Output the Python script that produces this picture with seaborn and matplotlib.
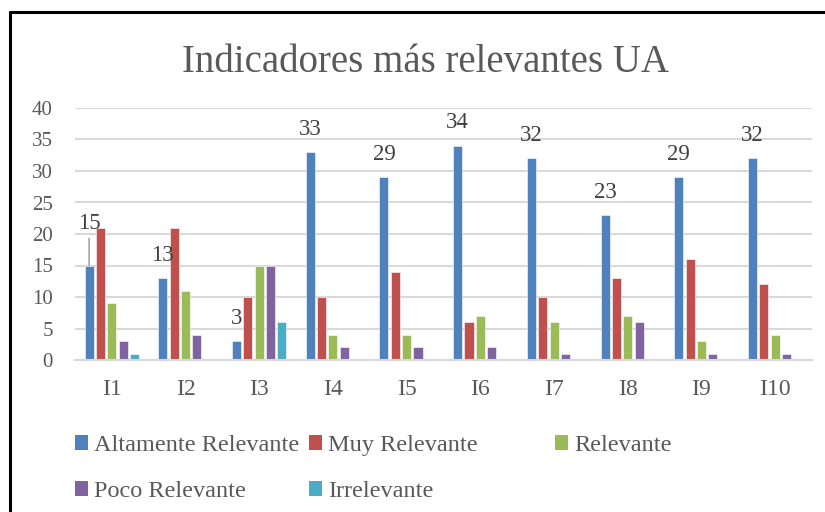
import matplotlib
matplotlib.use("Agg")
import matplotlib.pyplot as plt
import seaborn as sns
import pandas as pd
from matplotlib.patches import Patch
from matplotlib.lines import Line2D

# ---- data ----
indicadores = ["I1", "I2", "I3", "I4", "I5", "I6", "I7", "I8", "I9", "I10"]
series_names = ["Altamente Relevante", "Muy Relevante", "Relevante",
                "Poco Relevante", "Irrelevante"]
altamente = [15, 13, 3, 33, 29, 34, 32, 23, 29, 32]
muy = [21, 21, 10, 10, 14, 6, 10, 13, 16, 12]
relevante = [9, 11, 15, 4, 4, 7, 6, 7, 3, 4]
poco = [3, 4, 15, 2, 2, 2, 1, 6, 1, 1]
irrelevante = [1, 0, 6, 0, 0, 0, 0, 0, 0, 0]
y_ticks = [0, 5, 10, 15, 20, 25, 30, 35, 40]
title = "Indicadores más relevantes UA"

colors = ["#4F81BD", "#C0504D", "#9BBB59", "#8064A2", "#4BACC6"]

rows = []
for name, vals in zip(series_names, [altamente, muy, relevante, poco, irrelevante]):
    for ind, v in zip(indicadores, vals):
        rows.append({"Indicador": ind, "Serie": name, "Valor": v})
df = pd.DataFrame(rows)

sns.set_style("white")
plt.rcParams["font.family"] = ["Liberation Serif", "DejaVu Serif"]
TXT = "#595959"

fig = plt.figure(figsize=(8.25, 5.12), dpi=100)
W, H = 825, 512
ax = fig.add_axes([75 / W, 1 - 360 / H, (812 - 75) / W, (360 - 108) / H])

sns.barplot(data=df, x="Indicador", y="Valor", hue="Serie",
            order=indicadores, hue_order=series_names, palette=colors,
            width=0.77, gap=0.2, saturation=1, legend=False, ax=ax,
            edgecolor="white", linewidth=0.4)

ax.set_ylim(0, 40)
ax.set_xlim(-0.5, len(indicadores) - 0.5)
ax.set_yticks(y_ticks)
ax.set_yticklabels([str(t) for t in y_ticks])
ax.set_xlabel("")
ax.set_ylabel("")
ax.yaxis.grid(True, color="#d9d9d9", linewidth=1.5)
ax.set_axisbelow(True)
for s in ["top", "right", "left"]:
    ax.spines[s].set_visible(False)
ax.spines["bottom"].set_color("#d9d9d9")
ax.spines["bottom"].set_linewidth(1.5)
ax.tick_params(axis="y", length=0, pad=16, labelsize=15, labelcolor=TXT)
ax.tick_params(axis="x", length=0, pad=14, labelsize=17, labelcolor=TXT)

# data labels for first series only
cont = ax.containers[0]
for i, bar in enumerate(cont):
    cx = bar.get_x() + bar.get_width() / 2
    h = bar.get_height()
    if i == 0:
        ax.annotate(str(altamente[i]), xy=(cx, h), xytext=(0, 26),
                    textcoords="offset points", ha="center", va="baseline",
                    fontsize=16.5, color="#404040")
        ax.annotate("", xy=(cx, h), xytext=(0, 19.5), textcoords="offset points",
                    arrowprops=dict(arrowstyle="-", color="#a6a6a6", lw=1.2,
                                    shrinkA=0, shrinkB=0))
    else:
        ax.annotate(str(altamente[i]), xy=(cx, h), xytext=(0, 12.6),
                    textcoords="offset points", ha="center", va="baseline",
                    fontsize=16.5, color="#404040")

# title
fig.text(425 / W, 1 - 72 / H, title, ha="center", va="baseline",
         fontsize=28, color=TXT)

# legends (three columns)
handles = [Patch(facecolor=c, edgecolor="none") for c in colors]
cols = [(75, [0, 3]), (309, [1, 4]), (555, [2])]
for x, idxs in cols:
    leg = fig.legend([handles[k] for k in idxs], [series_names[k] for k in idxs],
                     loc="upper left", bbox_to_anchor=(x / W, 1 - 435 / H),
                     frameon=False, fontsize=17.5, labelcolor=TXT,
                     handlelength=0.55, handleheight=0.55, handletextpad=0.25,
                     labelspacing=1.04, borderpad=0, borderaxespad=0)

# outer frame lines
fig.add_artist(Line2D([10 / W, 10 / W], [0, 1 - 12 / H], transform=fig.transFigure,
                      color="black", linewidth=2.2))
fig.add_artist(Line2D([10 / W, 1], [1 - 12 / H, 1 - 12 / H], transform=fig.transFigure,
                      color="black", linewidth=2.2))

fig.savefig("out.png", dpi=100)
